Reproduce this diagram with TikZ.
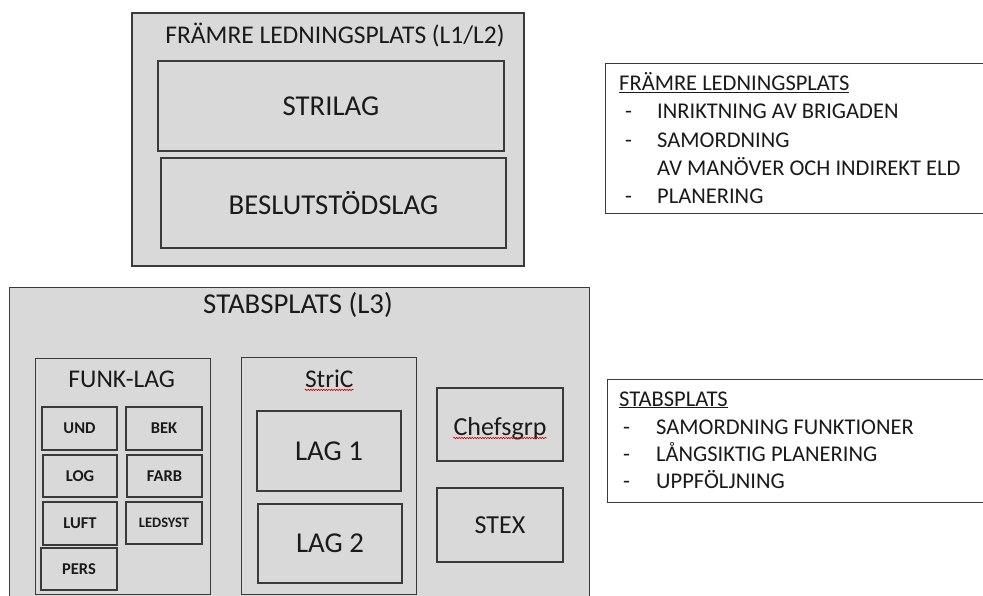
\documentclass[tikz,border=0pt]{standalone}
\usepackage{fontspec}
\setmainfont{Carlito}
\usetikzlibrary{decorations.pathmorphing}
\definecolor{boxfill}{HTML}{D9D9D9}
\definecolor{edge}{HTML}{3A3A3A}
\definecolor{ink}{HTML}{1A1A1A}
\newcommand{\setsz}[1]{\fontsize{#1}{#1}\selectfont}
\begin{document}
\begin{tikzpicture}[x=1pt,y=-1pt,
  panel/.style={draw=edge, line width=1.4pt, fill=boxfill, inner sep=0pt, text=ink},
  note/.style={draw=edge, line width=1.2pt, fill=white, inner sep=0pt},
  big/.style={font=\setsz{28.8}},
  mid/.style={font=\setsz{25.5}},
  small/.style={font=\bfseries\setsz{16.5}},
  heading/.style={inner sep=0pt, anchor=base, text=ink},
  notetext/.style={font=\setsz{22.5}, anchor=base west, inner sep=0pt, text=ink},
  squiggle/.style={draw=red!80!black, line width=0.6pt, decorate,
    decoration={snake, amplitude=0.7pt, segment length=2.6pt}}
]
\useasboundingbox (0,0) rectangle (983,596);
\clip (0,0) rectangle (983,596);

% ---- forward command post ----
\node[panel, minimum width=392pt, minimum height=253pt] (fwd) at (328,139.5) {};
\node[heading, mid] (fwdtitle) at (335,44) {FRÄMRE LEDNINGSPLATS (L1/L2)};
\node[panel, big, minimum width=346pt, minimum height=90pt] (strilag) at (331,106) {STRILAG};
\node[panel, big, minimum width=345pt, minimum height=90pt] (beslut) at (333.5,203) {BESLUTSTÖDSLAG};

% ---- forward command post: description ----
\node[note, minimum width=420pt, minimum height=150pt, anchor=north west] (fwdnote) at (605,63) {};
\node[notetext] (fwdhead) at (619,90.7) {\underline{FRÄMRE LEDNINGSPLATS}};
\node[notetext] (fwddasha) at (625,119) {-};
\node[notetext] (fwditema) at (657,119) {INRIKTNING AV BRIGADEN};
\node[notetext] (fwddashb) at (625,147.3) {-};
\node[notetext] (fwditemb) at (657,147.3) {SAMORDNING};
\node[notetext] (fwditemc) at (657,175.3) {AV MANÖVER OCH INDIREKT ELD};
\node[notetext] (fwddashd) at (625,203.3) {-};
\node[notetext] (fwditemd) at (657,203.3) {PLANERING};

% ---- staff post ----
\node[panel, minimum width=580pt, minimum height=340pt, anchor=north west] (staff) at (9,287) {};
\node[heading, big] (stafftitle) at (298,313.5) {STABSPLATS (L3)};

% functional teams
\node[panel, minimum width=175pt, minimum height=236pt, anchor=north west] (funk) at (35,358) {};
\node[heading, mid] (funktitle) at (121.7,387.8) {FUNK-LAG};
\node[panel, small, minimum width=75pt, minimum height=43pt] (und)  at (79.5,428.5) {UND};
\node[panel, small, minimum width=76pt, minimum height=43pt] (bek)  at (164,428.5) {BEK};
\node[panel, small, minimum width=74pt, minimum height=42pt] (log)  at (80,476) {LOG};
\node[panel, small, minimum width=75pt, minimum height=42pt] (farb) at (164.5,476) {FARB};
\node[panel, small, minimum width=74pt, minimum height=43pt] (luft) at (80,523.5) {LUFT};
\node[panel, small, font=\bfseries\setsz{14.5}, minimum width=76pt, minimum height=42pt] (ledsyst) at (164,523) {LEDSYST};
\node[panel, small, minimum width=76pt, minimum height=42pt] (pers) at (79,569) {PERS};

% combat control
\node[panel, minimum width=175pt, minimum height=237pt, anchor=north west] (stric) at (241,357) {};
\node[heading, mid] (strictitle) at (329.3,387.3) {StriC};
\draw[squiggle] ([yshift=-2.6pt]strictitle.base west) -- ([yshift=-2.6pt]strictitle.base east);
\node[panel, big, minimum width=144pt, minimum height=80pt] (laga) at (329,451) {LAG 1};
\node[panel, big, minimum width=144pt, minimum height=79pt] (lagb) at (330,543.5) {LAG 2};

% command group and exercise staff
\node[panel, minimum width=126pt, minimum height=73pt] (chef) at (500,424.5) {};
\node[heading, font=\setsz{26}] (cheftext) at (500,435) {Chefsgrp};
\draw[squiggle] ([yshift=-3pt]cheftext.base west) -- ([yshift=-3pt]cheftext.base east);
\node[panel, font=\setsz{26}, minimum width=126pt, minimum height=74pt] (stex) at (500,525) {STEX};

% ---- staff post: description ----
\node[note, minimum width=420pt, minimum height=123pt, anchor=north west] (staffnote) at (607,379) {};
\node[notetext] (staffhead) at (619,406) {\underline{STABSPLATS}};
\node[notetext] (staffdasha) at (623,434) {-};
\node[notetext] (staffitema) at (656,434) {SAMORDNING FUNKTIONER};
\node[notetext] (staffdashb) at (623,461.3) {-};
\node[notetext] (staffitemb) at (656,461.3) {LÅNGSIKTIG PLANERING};
\node[notetext] (staffdashc) at (623,488.5) {-};
\node[notetext] (staffitemc) at (656,488.5) {UPPFÖLJNING};
\end{tikzpicture}
\end{document}
